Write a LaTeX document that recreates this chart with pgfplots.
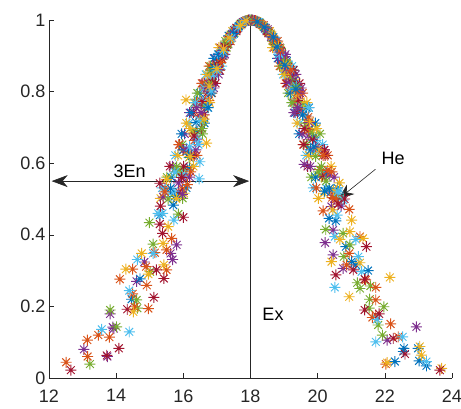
\documentclass[border=0pt]{standalone}
\usepackage{pgfplots}
\pgfplotsset{compat=1.18}
\usetikzlibrary{arrows.meta}
\usepackage{fontspec}
\setmainfont{Liberation Sans}
\definecolor{mc1}{rgb}{0,0.447,0.741}
\definecolor{mc2}{rgb}{0.850,0.325,0.098}
\definecolor{mc3}{rgb}{0.929,0.694,0.125}
\definecolor{mc4}{rgb}{0.494,0.184,0.556}
\definecolor{mc5}{rgb}{0.466,0.674,0.188}
\definecolor{mc6}{rgb}{0.301,0.745,0.933}
\definecolor{mc7}{rgb}{0.635,0.078,0.184}
\pgfdeclareplotmark{mstar}{%
  \pgfpathmoveto{\pgfqpoint{-\pgfplotmarksize}{0pt}}\pgfpathlineto{\pgfqpoint{\pgfplotmarksize}{0pt}}%
  \pgfpathmoveto{\pgfqpoint{0pt}{-\pgfplotmarksize}}\pgfpathlineto{\pgfqpoint{0pt}{\pgfplotmarksize}}%
  \pgfpathmoveto{\pgfqpoint{-0.707\pgfplotmarksize}{-0.707\pgfplotmarksize}}\pgfpathlineto{\pgfqpoint{0.707\pgfplotmarksize}{0.707\pgfplotmarksize}}%
  \pgfpathmoveto{\pgfqpoint{-0.707\pgfplotmarksize}{0.707\pgfplotmarksize}}\pgfpathlineto{\pgfqpoint{0.707\pgfplotmarksize}{-0.707\pgfplotmarksize}}%
  \pgfusepathqstroke}
\pgfplotsset{
  sb/.style={only marks, mark=mstar, mark size=5.5pt, line width=0.95pt},
  s1/.style={sb, color=mc1}, s2/.style={sb, color=mc2}, s3/.style={sb, color=mc3},
  s4/.style={sb, color=mc4}, s5/.style={sb, color=mc5}, s6/.style={sb, color=mc6},
  s7/.style={sb, color=mc7},
}
\newcommand{\lbl}{\fontsize{18}{21}\selectfont}
\begin{document}
\begin{tikzpicture}
\useasboundingbox (-49pt,-30pt) rectangle (412pt,378pt);
\begin{axis}[
  at={(0,0)}, anchor=south west,
  scale only axis, width=403pt, height=358pt,
  xmin=12, xmax=24, ymin=0, ymax=1,
  axis x line*=bottom, axis y line*=left,
  axis line style={-, black!85, line width=0.6pt},
  tick align=inside, major tick length=5pt,
  tick style={black!85, line width=0.6pt},
  xtick={12,14,16,18,20,22,24},
  ytick={0,0.2,0.4,0.6,0.8,1},
  yticklabels={0,0.2,0.4,0.6,0.8,1},
  tick label style={font=\lbl, text=black!85},
  /pgf/number format/assume math mode=true,
  xticklabel style={yshift=-8pt},
  clip=false,
]
% round 1: left, odd
\addplot[s1] coordinates {(17.94,0.999)(17.73,0.988)(17.48,0.967)(17.29,0.936)(17.18,0.900)(16.93,0.850)(16.61,0.769)(16.43,0.688)(16.19,0.588)};
\addplot[s2] coordinates {(17.96,1.000)(17.75,0.992)(17.60,0.975)(17.31,0.944)(17.07,0.887)(16.80,0.833)(16.76,0.775)(16.33,0.664)(16.00,0.567)};
\addplot[s3] coordinates {(17.92,0.999)(17.71,0.990)(17.53,0.969)(17.40,0.947)(17.15,0.889)(16.83,0.845)(16.64,0.752)(16.29,0.685)(15.93,0.579)};
\addplot[s4] coordinates {(17.97,1.000)(17.78,0.994)(17.51,0.972)(17.34,0.932)(17.17,0.906)(16.84,0.835)(16.65,0.761)(16.40,0.667)(16.00,0.561)};
\addplot[s5] coordinates {(17.92,0.999)(17.75,0.990)(17.52,0.964)(17.33,0.937)(17.04,0.887)(16.88,0.828)(16.62,0.763)(16.28,0.691)(16.00,0.582)};
\addplot[s6] coordinates {(17.98,1.000)(17.74,0.991)(17.54,0.973)(17.34,0.946)(17.07,0.898)(16.88,0.843)(16.61,0.777)(16.41,0.670)(16.05,0.570)};
\addplot[s7] coordinates {(17.94,1.000)(17.72,0.989)(17.59,0.974)(17.30,0.931)(17.16,0.891)(16.87,0.825)(16.55,0.772)(16.32,0.676)(16.01,0.591)};
% round 1b: left, outer and inner edge of the band
\addplot[s4] coordinates {(16.63,0.823)(16.19,0.741)(15.68,0.591)(16.94,0.893)(16.04,0.682)(16.19,0.561)(17.05,0.848)};
\addplot[s7] coordinates {(16.30,0.741)(16.58,0.823)(15.60,0.591)(17.10,0.923)(15.89,0.652)(16.96,0.823)(16.32,0.622)};
\addplot[s1] coordinates {(16.91,0.893)(16.49,0.796)(15.95,0.682)(15.64,0.561)(16.23,0.741)(16.63,0.712)(16.09,0.531)};
\addplot[s5] coordinates {(16.42,0.796)(15.97,0.652)(15.51,0.561)(16.81,0.871)(16.33,0.769)(16.57,0.682)(15.98,0.502)};
\addplot[s2] coordinates {(16.77,0.871)(16.39,0.769)(15.87,0.652)(15.46,0.531)(16.55,0.823)(16.40,0.622)(16.85,0.796)};
\addplot[s6] coordinates {(16.36,0.769)(16.17,0.712)(15.37,0.531)(16.67,0.848)(15.76,0.622)(16.45,0.652)(17.14,0.871)};
\addplot[s3] coordinates {(16.71,0.848)(16.09,0.712)(15.84,0.622)(15.32,0.502)(17.06,0.923)(16.78,0.769)(16.30,0.591)};
% round 2: right, odd
\addplot[s3] coordinates {(18.02,1.000)(18.32,0.988)(18.52,0.966)(18.75,0.934)(18.93,0.891)(19.32,0.835)(19.50,0.772)(19.74,0.691)(20.11,0.561)};
\addplot[s6] coordinates {(18.07,0.999)(18.24,0.994)(18.47,0.972)(18.77,0.942)(18.95,0.904)(19.25,0.825)(19.48,0.758)(19.95,0.664)(20.23,0.570)};
\addplot[s1] coordinates {(18.03,1.000)(18.26,0.993)(18.43,0.976)(18.75,0.937)(19.08,0.885)(19.29,0.830)(19.67,0.755)(19.87,0.673)(20.26,0.573)};
\addplot[s4] coordinates {(18.06,1.000)(18.29,0.989)(18.51,0.974)(18.70,0.947)(19.02,0.898)(19.21,0.845)(19.41,0.780)(19.72,0.676)(20.36,0.567)};
\addplot[s7] coordinates {(18.04,1.000)(18.29,0.990)(18.53,0.969)(18.77,0.932)(18.99,0.885)(19.25,0.828)(19.40,0.775)(19.85,0.667)(20.14,0.564)};
\addplot[s2] coordinates {(18.08,0.999)(18.27,0.990)(18.56,0.968)(18.66,0.944)(18.95,0.900)(19.15,0.848)(19.48,0.752)(19.74,0.694)(20.06,0.582)};
\addplot[s5] coordinates {(18.01,1.000)(18.28,0.992)(18.55,0.966)(18.74,0.931)(18.99,0.889)(19.19,0.833)(19.60,0.763)(19.84,0.685)(20.11,0.591)};
% round 2b: right, inner and outer edge of the band
\addplot[s6] coordinates {(19.26,0.769)(19.47,0.712)(19.87,0.531)(18.97,0.848)(19.66,0.622)(20.15,0.652)(19.24,0.871)};
\addplot[s2] coordinates {(18.87,0.871)(19.29,0.769)(19.57,0.652)(19.96,0.531)(19.05,0.823)(20.30,0.622)(19.55,0.796)};
\addplot[s5] coordinates {(19.12,0.796)(19.67,0.652)(19.81,0.561)(18.91,0.871)(19.23,0.769)(20.07,0.682)(20.68,0.502)};
\addplot[s1] coordinates {(18.81,0.893)(19.19,0.796)(19.45,0.682)(19.94,0.561)(19.33,0.741)(19.93,0.712)(20.59,0.531)};
\addplot[s7] coordinates {(19.40,0.741)(19.08,0.823)(19.70,0.591)(18.70,0.923)(19.59,0.652)(19.46,0.823)(20.22,0.622)};
\addplot[s3] coordinates {(19.01,0.848)(19.39,0.712)(19.74,0.622)(20.02,0.502)(18.66,0.923)(19.68,0.769)(20.40,0.591)};
\addplot[s4] coordinates {(19.13,0.823)(19.29,0.741)(19.78,0.591)(18.84,0.893)(19.54,0.682)(20.49,0.561)(19.35,0.848)};
% left band edges
\addplot[s2] coordinates {(17.41,0.941)(16.61,0.810)(16.22,0.576)(16.83,0.860)};
\addplot[s6] coordinates {(16.72,0.755)(16.62,0.810)(17.03,0.904)(15.61,0.516)};
\addplot[s3] coordinates {(17.08,0.860)(16.20,0.697)(17.46,0.969)(16.02,0.516)};
\addplot[s7] coordinates {(16.00,0.637)(16.54,0.697)(17.07,0.860)(17.58,0.969)};
\addplot[s1] coordinates {(17.05,0.904)(16.74,0.755)(15.99,0.637)(17.35,0.956)};
\addplot[s5] coordinates {(16.56,0.697)(16.82,0.860)(17.25,0.941)(15.80,0.576)};
\addplot[s4] coordinates {(16.91,0.810)(17.24,0.904)(16.37,0.637)(16.40,0.755)};
% round 3: left, even
\addplot[s5] coordinates {(17.85,0.997)(17.68,0.987)(17.41,0.959)(17.29,0.923)(17.00,0.871)(16.74,0.818)(16.58,0.717)(16.17,0.616)(15.89,0.510)};
\addplot[s2] coordinates {(17.83,0.996)(17.60,0.977)(17.41,0.955)(17.23,0.914)(17.10,0.881)(16.74,0.794)(16.47,0.732)(16.09,0.634)(15.97,0.528)};
\addplot[s7] coordinates {(17.89,0.998)(17.58,0.978)(17.39,0.953)(17.24,0.925)(16.98,0.876)(16.74,0.799)(16.62,0.735)(16.25,0.622)(15.87,0.519)};
\addplot[s4] coordinates {(17.83,0.996)(17.64,0.979)(17.46,0.960)(17.16,0.914)(17.05,0.862)(16.70,0.810)(16.53,0.741)(16.09,0.640)(15.97,0.513)};
\addplot[s1] coordinates {(17.87,0.998)(17.65,0.983)(17.50,0.962)(17.18,0.908)(16.92,0.867)(16.83,0.796)(16.38,0.714)(16.16,0.625)(15.74,0.507)};
\addplot[s6] coordinates {(17.81,0.995)(17.63,0.980)(17.43,0.949)(17.19,0.912)(17.00,0.858)(16.83,0.802)(16.49,0.720)(16.19,0.646)(15.72,0.522)};
\addplot[s3] coordinates {(17.87,0.998)(17.70,0.985)(17.36,0.950)(17.20,0.919)(17.00,0.864)(16.77,0.815)(16.62,0.723)(16.20,0.619)(15.79,0.501)};
% right band edges
\addplot[s4] coordinates {(19.51,0.810)(19.04,0.904)(20.19,0.637)(19.41,0.755)};
\addplot[s1] coordinates {(18.85,0.904)(19.74,0.755)(19.79,0.637)(19.27,0.860)};
\addplot[s5] coordinates {(19.96,0.697)(19.05,0.860)(18.66,0.941)(20.02,0.576)};
\addplot[s2] coordinates {(18.81,0.941)(19.22,0.810)(20.42,0.576)(19.62,0.697)};
\addplot[s7] coordinates {(20.20,0.637)(19.60,0.697)(19.28,0.860)(18.48,0.969)};
\addplot[s3] coordinates {(19.03,0.860)(19.97,0.697)(18.58,0.969)(20.19,0.516)};
\addplot[s6] coordinates {(19.73,0.755)(19.24,0.810)(18.86,0.904)(20.62,0.516)};
% round 4: right, even
\addplot[s7] coordinates {(18.19,0.996)(18.39,0.985)(18.53,0.963)(18.87,0.923)(19.08,0.878)(19.43,0.810)(19.69,0.723)(20.04,0.640)(20.49,0.501)};
\addplot[s6] coordinates {(18.15,0.997)(18.46,0.978)(18.63,0.955)(18.85,0.908)(19.18,0.867)(19.37,0.815)(19.64,0.732)(19.95,0.634)(20.25,0.531)};
\addplot[s5] coordinates {(18.20,0.996)(18.39,0.981)(18.60,0.962)(18.89,0.921)(19.08,0.881)(19.35,0.812)(19.67,0.712)(19.94,0.619)(20.51,0.510)};
\addplot[s4] coordinates {(18.12,0.998)(18.45,0.977)(18.61,0.953)(18.89,0.910)(19.06,0.864)(19.47,0.796)(19.75,0.714)(19.94,0.643)(20.40,0.519)};
\addplot[s3] coordinates {(18.19,0.996)(18.38,0.984)(18.65,0.957)(18.83,0.927)(19.08,0.876)(19.36,0.791)(19.76,0.717)(20.01,0.637)(20.47,0.525)};
\addplot[s2] coordinates {(18.15,0.998)(18.35,0.986)(18.66,0.949)(18.89,0.916)(19.20,0.860)(19.41,0.799)(19.72,0.729)(20.16,0.622)(20.43,0.504)};
\addplot[s1] coordinates {(18.20,0.995)(18.41,0.980)(18.68,0.952)(18.79,0.925)(19.02,0.874)(19.35,0.807)(19.55,0.735)(19.89,0.646)(20.21,0.522)};
% round 5: lower flanks and scattered drops
\addplot[s4] coordinates {(13.04,0.080)(13.74,0.060)(13.82,0.179)(13.90,0.142)(13.93,0.138)(14.61,0.270)(14.84,0.324)(15.68,0.331)(15.62,0.348)(15.80,0.372)(15.85,0.545)(15.40,0.505)
  (22.94,0.143)(22.07,0.106)(20.76,0.306)(20.46,0.344)(20.22,0.378)(20.46,0.413)(20.41,0.479)(20.70,0.480)(19.60,0.597)};
\addplot[s1] coordinates {(14.46,0.220)(14.71,0.277)(15.30,0.455)(15.70,0.483)(15.62,0.530)
  (23.24,0.034)(23.02,0.048)(22.99,0.083)(22.57,0.083)(22.55,0.074)(22.30,0.046)(21.50,0.300)(21.01,0.325)(21.14,0.316)(20.84,0.367)(20.54,0.439)(20.34,0.446)(20.35,0.530)};
\addplot[s5] coordinates {(13.22,0.039)(13.82,0.190)(14.01,0.143)(14.61,0.218)(14.63,0.195)(15.01,0.297)(14.99,0.434)(15.10,0.374)(15.85,0.458)(15.55,0.500)(15.80,0.590)
  (21.93,0.120)(21.80,0.148)(21.97,0.199)(21.53,0.195)(21.55,0.220)(21.57,0.257)(21.26,0.250)(21.18,0.266)(20.78,0.339)(20.96,0.372)(20.76,0.404)(20.24,0.415)(20.25,0.550)};
\addplot[s2] coordinates {(12.51,0.044)(13.14,0.106)(13.15,0.060)(13.47,0.120)(13.80,0.114)(14.11,0.276)(14.49,0.304)(14.55,0.199)(14.49,0.235)(14.89,0.311)(14.91,0.259)(14.96,0.194)(15.15,0.350)(15.50,0.358)(15.50,0.302)(15.65,0.390)(15.45,0.520)(16.12,0.540)
  (22.03,0.039)(22.40,0.115)(22.17,0.151)(21.73,0.176)(21.63,0.169)(21.73,0.218)(21.73,0.253)(21.43,0.274)(20.86,0.316)(20.94,0.348)(21.26,0.395)(20.16,0.467)(20.94,0.471)(20.55,0.500)(20.30,0.580)};
\addplot[s6] coordinates {(13.57,0.136)(14.39,0.129)(14.39,0.244)(14.63,0.331)(15.10,0.348)(15.25,0.460)(15.72,0.441)(15.38,0.460)(15.75,0.575)(16.49,0.604)(16.47,0.556)
  (23.24,0.046)(22.53,0.115)(21.73,0.101)(21.77,0.164)(21.31,0.297)(20.51,0.253)(21.21,0.339)(21.14,0.387)(20.51,0.395)(20.58,0.455)(20.76,0.497)(20.60,0.520)};
\addplot[s3] coordinates {(14.29,0.304)(14.51,0.185)(14.76,0.348)(14.96,0.290)(15.40,0.376)(15.42,0.316)(15.55,0.423)(15.50,0.555)(16.08,0.777)(16.69,0.656)
  (23.69,0.027)(23.09,0.064)(23.04,0.088)(22.07,0.043)(22.15,0.281)(20.94,0.227)(21.26,0.322)(20.41,0.325)(21.35,0.390)(20.66,0.387)(20.96,0.409)(21.01,0.441)(20.45,0.470)(20.65,0.545)};
\addplot[s7] coordinates {(12.65,0.022)(13.72,0.063)(14.08,0.083)(14.33,0.192)(15.12,0.225)(15.20,0.302)(15.30,0.430)(15.38,0.404)(15.42,0.278)(16.00,0.449)(15.32,0.480)(15.30,0.544)(15.95,0.560)
  (23.64,0.022)(22.60,0.067)(22.25,0.111)(21.83,0.179)(21.40,0.190)(21.40,0.276)(21.06,0.302)(20.54,0.288)(21.45,0.367)(20.61,0.486)(20.80,0.500)};
% annotations
\draw[black!85, line width=0.6pt] (18,0) -- (18,1);
\draw[black!85, line width=0.6pt, {Stealth[length=16pt,width=12pt,inset=5pt]}-{Stealth[length=16pt,width=12pt,inset=5pt]}] (12.08,0.55) -- (17.96,0.55);
\draw[black!85, line width=0.6pt, -{Stealth[length=16pt,width=12pt,inset=5pt]}] (21.72,0.583) -- (20.61,0.499);
\node[anchor=base, font=\lbl, inner sep=0pt] at (14.40,0.559) {3En};
\node[anchor=base, font=\lbl, inner sep=0pt] at (18.67,0.160) {Ex};
\node[anchor=base, font=\lbl, inner sep=0pt] at (22.25,0.595) {He};
\end{axis}
\end{tikzpicture}
\end{document}
